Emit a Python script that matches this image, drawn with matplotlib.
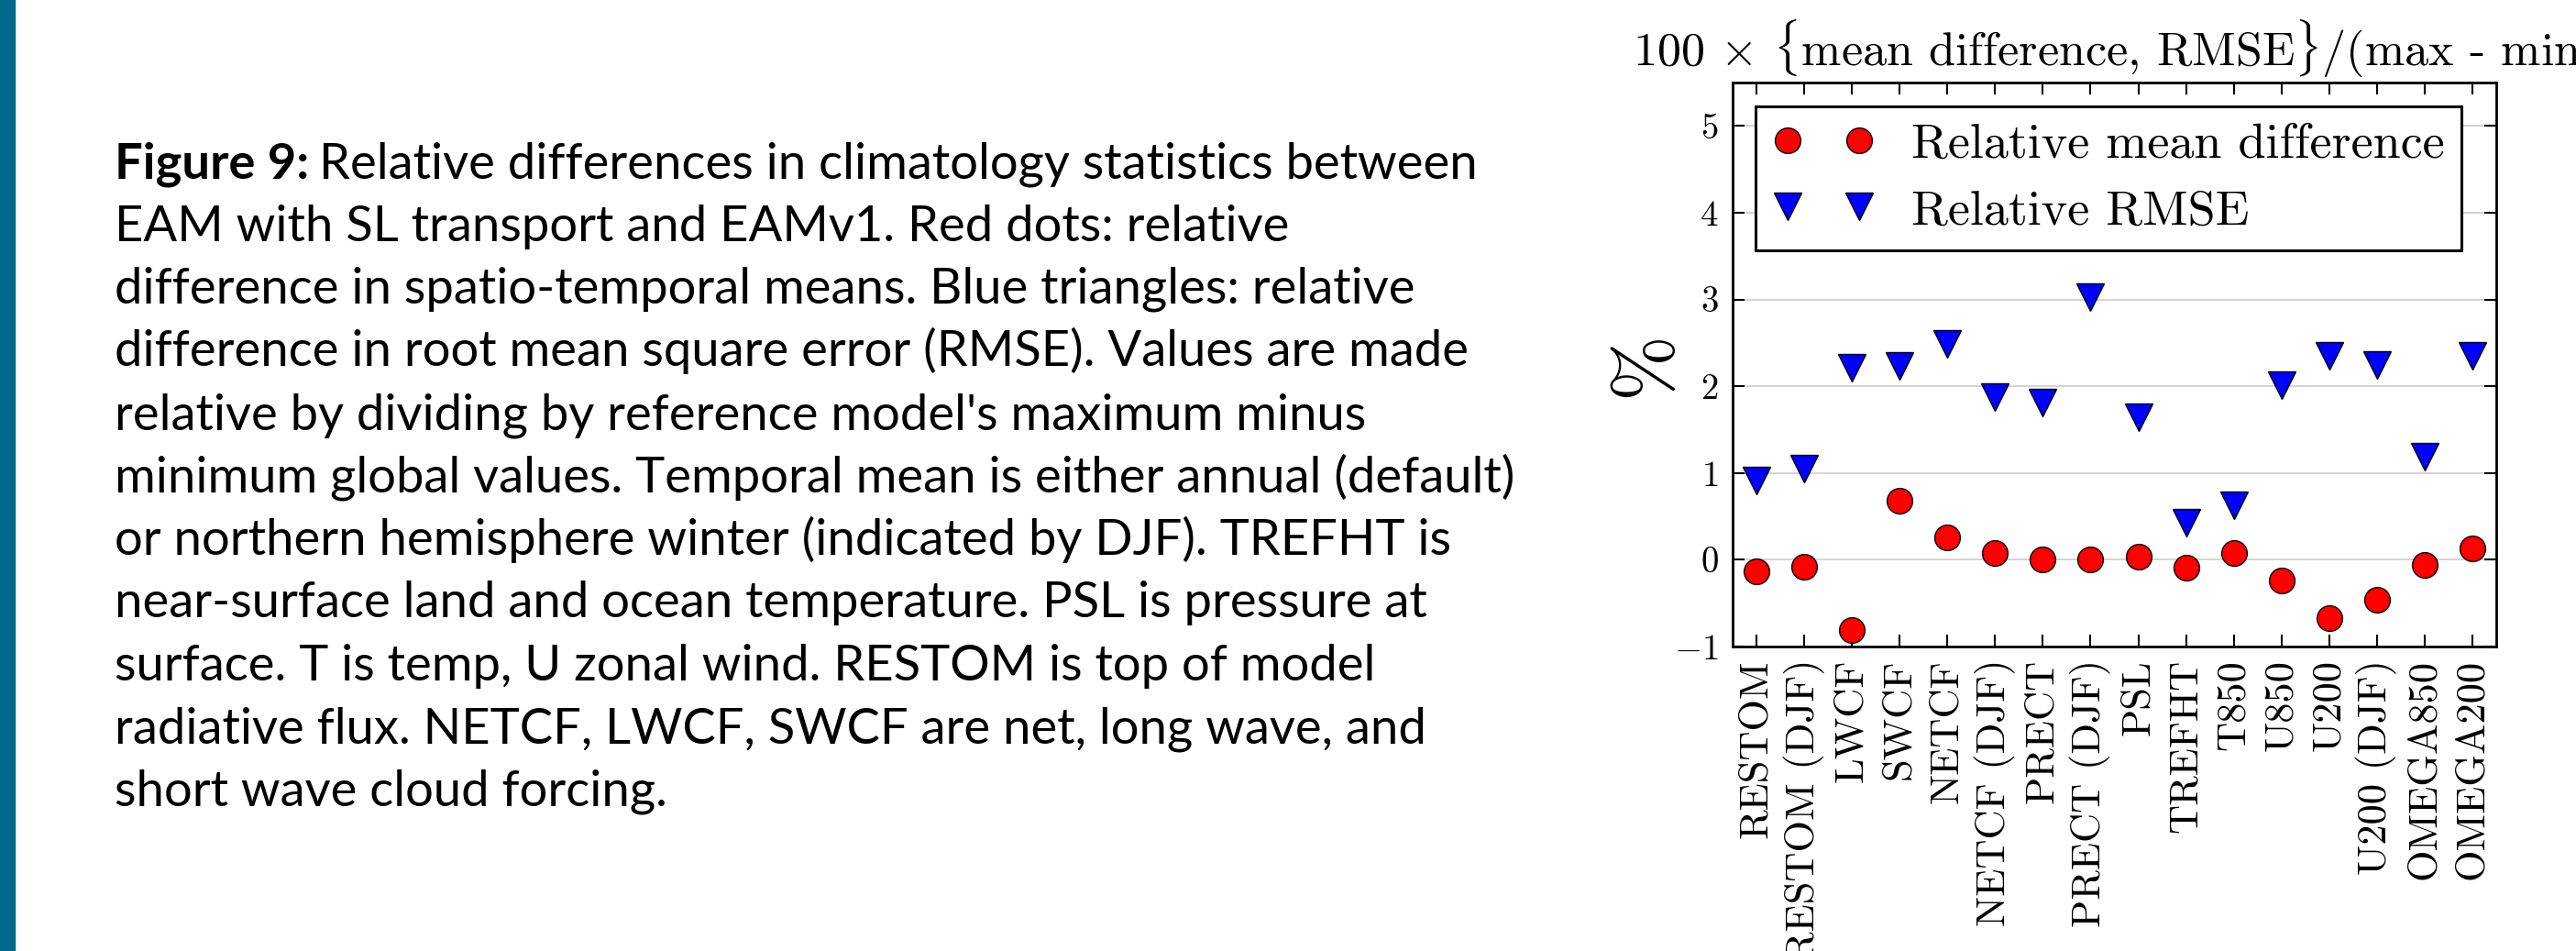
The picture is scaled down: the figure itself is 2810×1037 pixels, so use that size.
import matplotlib
matplotlib.use("Agg")
import matplotlib.pyplot as plt
import numpy as np

# values (percent of max - min)
labels = ["RESTOM", "RESTOM (DJF)", "LWCF", "SWCF", "NETCF", "NETCF (DJF)",
          "PRECT", "PRECT (DJF)", "PSL", "TREFHT", "T850", "U850", "U200",
          "U200 (DJF)", "OMEGA850", "OMEGA200"]
mean_diff = [-0.13, -0.08, -0.81, 0.68, 0.26, 0.08, 0.0, 0.0, 0.035, -0.09,
             0.08, -0.24, -0.67, -0.46, -0.06, 0.13]
rmse = [0.91, 1.05, 2.21, 2.23, 2.49, 1.88, 1.81, 3.03, 1.64, 0.43, 0.63,
        2.01, 2.35, 2.25, 1.19, 2.35]
yticks = [-1, 0, 1, 2, 3, 4, 5]

caption_head = "Figure 9:"
caption = [
    "Relative differences in climatology statistics between",
    "EAM with SL transport and EAMv1. Red dots: relative",
    "difference in spatio-temporal means. Blue triangles: relative",
    "difference in root mean square error (RMSE). Values are made",
    "relative by dividing by reference model's maximum minus",
    "minimum global values. Temporal mean is either annual (default)",
    "or northern hemisphere winter (indicated by DJF). TREFHT is",
    "near-surface land and ocean temperature. PSL is pressure at",
    "surface. T is temp, U zonal wind. RESTOM is top of model",
    "radiative flux. NETCF, LWCF, SWCF are net, long wave, and",
    "short wave cloud forcing.",
]

plt.rcParams["font.family"] = "serif"
plt.rcParams["font.serif"] = ["cmr10"]
plt.rcParams["mathtext.fontset"] = "cm"
plt.rcParams["axes.formatter.use_mathtext"] = True

W, H = 2810, 1037
fig = plt.figure(figsize=(W / 100, H / 100), dpi=100)
renderer = fig.canvas.get_renderer()

# slide side bar
fig.patches.append(plt.Rectangle((0, 0), 16 / W, 1, transform=fig.transFigure,
                                 color="#006a8e", zorder=0))

# caption text on the left; size chosen so the first line spans ~1490 px
cap_font = "Lato"
x0 = 125 / W
y_first = 194
step = 68.5
probe = fig.text(0, 0, caption_head + " " + caption[0], fontsize=33,
                 family=cap_font)
cap_size = 33 * 1491 / probe.get_window_extent(renderer).width
probe.remove()

head = fig.text(x0, 1 - y_first / H, caption_head, fontsize=cap_size,
                family=cap_font, weight="bold", va="baseline", ha="left")
bb = head.get_window_extent(renderer)
for i, line in enumerate(caption):
    xx = x0 if i > 0 else (bb.x1 + 0.28 * cap_size) / W
    fig.text(xx, 1 - (y_first + i * step) / H, line, fontsize=cap_size,
             family=cap_font, va="baseline", ha="left")

# chart
ax = fig.add_axes([1890 / W, 332 / H, 833 / W, 615 / H])
x = np.arange(len(labels))
ax.plot(x, mean_diff, "o", ms=20, mfc="#ff0000", mec="black", mew=1,
        label="Relative mean difference", zorder=3)
ax.plot(x, rmse, "v", ms=21, mfc="#0000ff", mec="black", mew=1,
        label="Relative RMSE", zorder=3)

ax.set_xlim(-0.5, len(labels) - 0.5)
ax.set_ylim(-1, 5.5)
ax.set_xticks(x)
ax.set_xticklabels(labels, rotation=90, fontsize=32)
ax.set_yticks(yticks)
ax.tick_params(axis="y", labelsize=28, pad=11)
ax.tick_params(axis="x", pad=10)
ax.tick_params(direction="in", length=9.5, width=1.5,
               top=True, right=True)
ax.yaxis.grid(True, color="#cccccc", lw=1.2, zorder=0)
ax.set_axisbelow(True)
for s in ax.spines.values():
    s.set_linewidth(2)

ax.set_ylabel("%", fontsize=62)
ax.yaxis.label.set(va="center", rotation_mode="default")
ax.yaxis.set_label_coords(-0.112, 0.50)

leg = ax.legend(loc="upper left", bbox_to_anchor=(0.030, 0.958),
                borderaxespad=0, numpoints=2, fontsize=39, handlelength=2.05,
                handletextpad=0.75, borderpad=0.34, labelspacing=0.45,
                fancybox=False, framealpha=1)
leg.get_frame().set_edgecolor("black")
leg.get_frame().set_linewidth(2.2)

fig.text(2306 / W, 1 - 72 / H,
         r"100 $\times$ $\{$mean difference, RMSE$\}$/(max - min)",
         fontsize=37.5, ha="center", va="baseline")

fig.savefig("out.png", dpi=100)
